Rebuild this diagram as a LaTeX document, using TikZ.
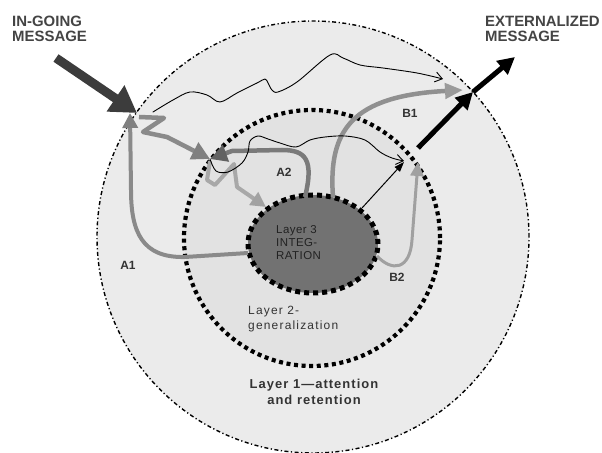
\documentclass[tikz,border=0pt]{standalone}
\usepackage{fontspec}
\setmainfont{Liberation Sans}
\newfontfamily\lsA[LetterSpace=4]{Liberation Sans}
\newfontfamily\lsB[LetterSpace=8]{Liberation Sans}
\newfontfamily\lsC[LetterSpace=10]{Liberation Sans}
\usetikzlibrary{arrows.meta,shapes.geometric}
\definecolor{lonefill}{HTML}{EBEBEB}
\definecolor{ltwofill}{HTML}{E2E2E2}
\definecolor{lthreefill}{HTML}{727272}
\definecolor{indark}{HTML}{3C3C3C}
\definecolor{titlegray}{HTML}{444444}
\definecolor{txtdark}{HTML}{333333}
\definecolor{txtinner}{HTML}{222222}
\definecolor{gA}{HTML}{8A8A8A}
\definecolor{gAhead}{HTML}{808080}
\definecolor{gB}{HTML}{7A7A7A}
\definecolor{gBhead}{HTML}{626262}
\definecolor{gL}{HTML}{A8A8A8}
\definecolor{gLhead}{HTML}{A2A2A2}
\definecolor{gOne}{HTML}{909090}
\definecolor{gOnehead}{HTML}{9A9A9A}
\definecolor{gTwo}{HTML}{A0A0A0}
\begin{document}
\begin{tikzpicture}[x=1bp,y=-1bp,
  outerline/.style={line width=1.4bp, dash pattern=on 4bp off 2.5bp on 1.2bp off 2.5bp},
  midline/.style={line width=4.2bp, dash pattern=on 4bp off 3.6bp},
  innerline/.style={line width=5bp, dash pattern=on 5bp off 4bp},
  wave/.style={line width=0.9bp, black, line join=round, line cap=round,
    -{Straight Barb[length=7bp,width=10bp,line width=0.9bp]}},
  garrow/.style={line width=4.5bp, draw=#1, line join=round},
  lbl/.style={font=\bfseries\fontsize{12}{12}\selectfont, text=txtdark, inner sep=0},
  title/.style={font=\bfseries\fontsize{15}{15}\selectfont, text=titlegray, inner sep=0, align=left, anchor=north west}
]
\useasboundingbox (0,0) rectangle (602,453);
% layers
\node[circle, minimum size=432bp, inner sep=0, fill=lonefill, draw=black, outerline] (L1) at (313,237) {};
\node[circle, minimum size=256bp, inner sep=0, fill=ltwofill, draw=black, midline] (L2) at (312,238) {};
\node[ellipse, minimum width=130bp, minimum height=98bp, inner sep=0, fill=lthreefill, draw=black, innerline] (L3) at (313,244) {};

% coordinates
\coordinate (inTail) at (56,58);
\coordinate (inTip) at (137,113);
\coordinate (zTip) at (210,159);
\coordinate (lzTip) at (266,207);
\coordinate (a1Start) at (248,253);
\coordinate (a1Tip) at (130,113);
\coordinate (a2Start) at (305,197);
\coordinate (b1Start) at (333,197);
\coordinate (b1Tip) at (463,90);
\coordinate (b2Start) at (377,256);
\coordinate (b2Tip) at (418,162);
\coordinate (tStart) at (362,208);
\coordinate (tTip) at (404,162);
\coordinate (w1Start) at (153,112);
\coordinate (w1Tip) at (443,79);
\coordinate (w2Tip) at (404,161);
\coordinate (exStart) at (418,148);
\coordinate (exMid) at (473,92);
\coordinate (exTip) at (515,57);

% A1
\draw[garrow=gA, line width=4bp, -{Triangle[length=15bp,width=15bp,color=gAhead]}]
  (a1Start) -- (185,257) .. controls (142,258) and (131,232) .. (131,190) -- (a1Tip);
% B2
\draw[garrow=gTwo, line width=3bp, -{Triangle[length=14bp,width=13bp,color=gTwo]}]
  (b2Start) .. controls (392,272) and (410,270) .. (412,240) -- (b2Tip);
% B1
\draw[garrow=gOne, -{Triangle[length=18bp,width=15bp,color=gOnehead]}]
  (b1Start) .. controls (328,130) and (352,96) .. (b1Tip);
% A2
\draw[garrow=gB, -{Triangle[length=17bp,width=17bp,color=gBhead]}]
  (a2Start) .. controls (314,160) and (306,150) .. (282,150) -- (232,151) -- (zTip);
% zigzag from in-going tip
\draw[garrow=gA, -{Triangle[length=18bp,width=18bp,color=gAhead]}]
  (139,117) -- (164,118) -- (143,132) -- (167,137) -- (zTip);
% light zigzag to layer 3
\draw[garrow=gL, line width=4bp, -{Triangle[length=15bp,width=15bp,color=gLhead]}]
  (210,161) -- (207,180) -- (215,185) -- (234,164) -- (237,187) -- (lzTip);

% thin wavy lines
\draw[wave] plot[smooth, tension=0.55] coordinates {
  (w1Start) (173,100) (190,92) (207,95) (220,102) (237,93) (257,83) (265,79)
  (268,83) (272,90) (278,92) (297,82) (330,55) (343,58) (360,65) (383,68) (417,73) (w1Tip)};
\draw[wave] plot[smooth, tension=0.55] coordinates {
  (zTip) (216,171) (228,172) (242,163) (248,152) (250,141) (258,136) (268,139)
  (280,143) (296,147) (310,140) (325,137) (345,136) (365,140) (380,152) (392,158) (w2Tip)};
% thin straight arrow
\draw[line width=1bp, black, -{Triangle[length=10bp,width=7bp]}] (tStart) -- (tTip);

% big arrows
\draw[line width=9bp, indark, -{Triangle[length=26bp,width=30bp]}] (inTail) -- (inTip);
\draw[line width=5bp, black, -{Triangle[length=17bp,width=17bp]}] (exStart) -- (exMid);
\draw[line width=5bp, black, -{Triangle[length=17bp,width=17bp]}] (exMid) -- (exTip);

% labels
\node[title] (tin) at (12,16) {IN-GOING\\MESSAGE};
\node[title] (tex) at (485,16) {EXTERNALIZED\\MESSAGE};
\node[lbl] (la1) at (128,265) {A1};
\node[lbl] (la2) at (284,172) {A2};
\node[lbl] (lb1) at (410,113) {B1};
\node[lbl] (lb2) at (397,277) {B2};
\node[anchor=north west, align=left, inner sep=0, text=txtinner,
  font=\lsA\fontsize{11.5}{13}\selectfont] (t3) at (276,225) {Layer 3\\INTEG-\\RATION};
\node[anchor=north west, align=left, inner sep=0, text=txtdark,
  font=\lsC\fontsize{12}{15}\selectfont] (t2) at (248,306) {Layer 2-\\generalization};
\node[anchor=north, align=center, inner sep=0, text=txtdark,
  font=\lsB\bfseries\fontsize{13}{16}\selectfont] (t1) at (314,379) {Layer 1—attention\\and retention};
\end{tikzpicture}
\end{document}
